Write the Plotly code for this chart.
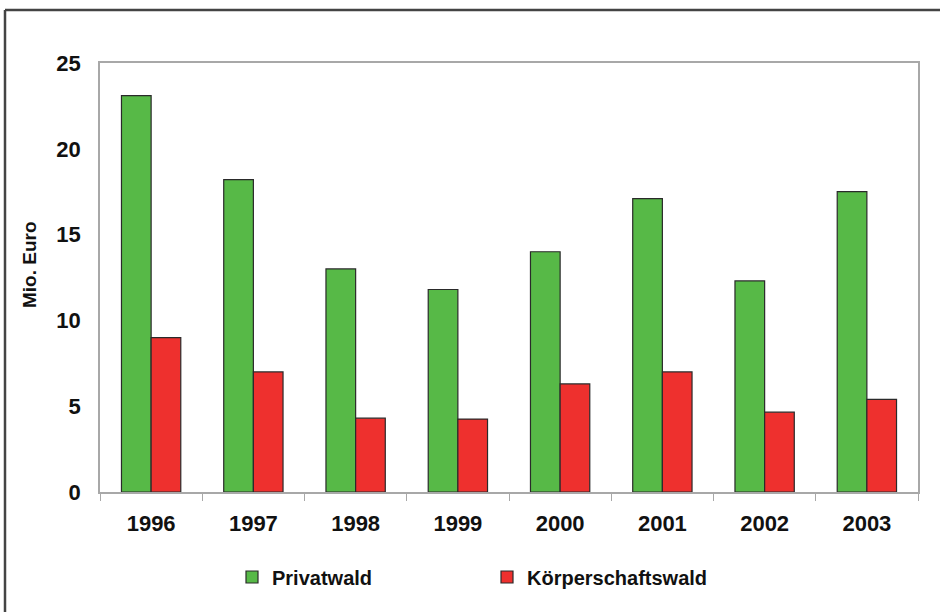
import plotly.graph_objects as go

years = ["1996", "1997", "1998", "1999", "2000", "2001", "2002", "2003"]
privatwald = [23.1, 18.2, 13.0, 11.8, 14.0, 17.1, 12.3, 17.5]
koerperschaftswald = [9.0, 7.0, 4.3, 4.25, 6.3, 7.0, 4.65, 5.4]
y_ticks = [0, 5, 10, 15, 20, 25]

W, H = 940, 612
ML, MR, MT, MB = 100, 22, 63, 120
PW, PH = W - ML - MR, H - MT - MB

def px_x(p):
    return (p - ML) / PW

def px_y(p):
    return (H - MB - p) / PH

font = "Liberation Sans, Arial, sans-serif"

fig = go.Figure()
fig.add_trace(go.Bar(
    x=years, y=privatwald, name="Privatwald",
    marker=dict(color="#57b947", line=dict(color="#2a2a2a", width=1.2)),
))
fig.add_trace(go.Bar(
    x=years, y=koerperschaftswald, name="Körperschaftswald",
    marker=dict(color="#ee302e", line=dict(color="#2a2a2a", width=1.2)),
))

fig.update_layout(
    width=W, height=H,
    margin=dict(l=ML, r=MR, t=MT, b=MB, autoexpand=False),
    paper_bgcolor="white", plot_bgcolor="white",
    barmode="group", bargap=0.42, bargroupgap=0,
    font=dict(family=font, size=20, color="#111111", weight="bold"),
    showlegend=True,
    legend=dict(
        orientation="h", x=px_x(232), xanchor="left", y=px_y(577), yanchor="middle",
        entrywidth=210, entrywidthmode="pixels",
        font=dict(family=font, size=20, color="#111111", weight="bold"),
        bgcolor="rgba(0,0,0,0)", itemclick=False,
    ),
    xaxis=dict(
        showline=True, linecolor="#a8a8a8", linewidth=1.5, mirror=True,
        ticks="outside", ticklen=7, tickcolor="#a8a8a8", tickson="boundaries",
        ticklabelstandoff=11, showgrid=False,
        tickfont=dict(family=font, size=22, color="#111111", weight="bold"),
    ),
    yaxis=dict(
        range=[0, 25], tickvals=y_ticks, showgrid=False, zeroline=False,
        showline=True, linecolor="#a8a8a8", linewidth=1.5, mirror=True,
        ticks="", ticklabelstandoff=13,
        tickfont=dict(family=font, size=22, color="#111111", weight="bold"),
    ),
    annotations=[
        dict(text="Mio. Euro", xref="paper", yref="paper",
             x=px_x(29), y=px_y(265), xanchor="center", yanchor="middle",
             textangle=-90, showarrow=False,
             font=dict(family=font, size=19, color="#111111", weight="bold")),
    ],
    shapes=[
        dict(type="line", xref="paper", yref="paper",
             x0=px_x(5), x1=px_x(945), y0=px_y(10), y1=px_y(10),
             line=dict(color="#444444", width=2.5)),
        dict(type="line", xref="paper", yref="paper",
             x0=px_x(5), x1=px_x(5), y0=px_y(10), y1=px_y(620),
             line=dict(color="#444444", width=2.5)),
    ],
)

fig.write_html(
    "out.html",
    config={"displayModeBar": False},
    post_script="document.body.style.margin='0';document.body.style.padding='0';",
)
